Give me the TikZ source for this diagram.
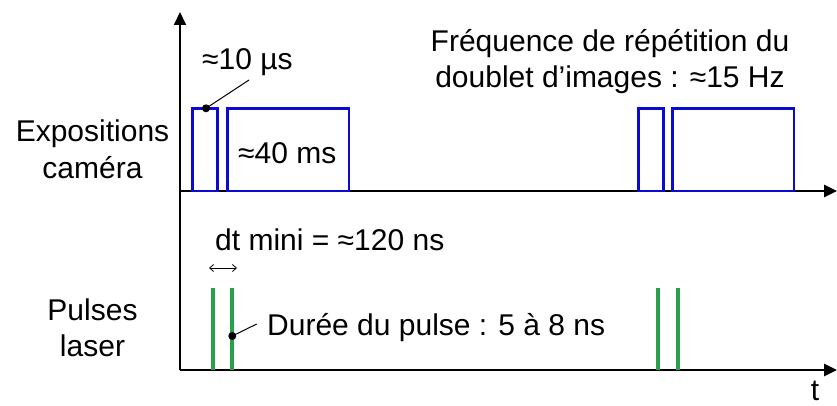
\documentclass[tikz,border=0pt]{standalone}
\usepackage{fontspec}
\setmainfont{Liberation Sans}
\usetikzlibrary{arrows.meta}
\definecolor{expblue}{RGB}{10,10,210}
\definecolor{pulsegreen}{RGB}{40,160,75}
\begin{document}
\begin{tikzpicture}[x=1pt,y=1pt,
  lbl/.style={inner sep=0pt,font=\fontsize{30}{36.5}\selectfont},
  axis/.style={line width=2.6pt,-{Triangle[length=13pt,width=12pt]}},
  expo/.style={draw=expblue,line width=2.8pt},
  pulse/.style={draw=pulsegreen,line width=4pt},
  pin/.style={line width=1pt},
  dotmark/.style={circle,fill=black,inner sep=0pt,minimum size=8pt}]
\useasboundingbox (0,0) rectangle (837,405);
% axes
\coordinate (O) at (180,35);
\coordinate (Ytop) at (180,393);
\coordinate (Uaxis) at (180,214);
\coordinate (Uend) at (837,214);
\coordinate (Lend) at (837,35);
\draw[line width=2pt,-{Triangle[length=13pt,width=12pt]}] (O) -- (Ytop);
\draw[axis] (Uaxis) -- (Uend);
\draw[axis] (O) -- (Lend);
% exposures
\draw[expo] (192.7,214) rectangle (217.7,296.7);
\draw[expo] (227.7,214) rectangle (349,296.7);
\draw[expo] (638.3,214) rectangle (663.3,296.7);
\draw[expo] (672.3,214) rectangle (794,296.7);
% pulses
\draw[pulse] (212.7,35) -- (212.7,117);
\draw[pulse] (232.3,35) -- (232.3,117);
\draw[pulse] (658.3,35) -- (658.3,117);
\draw[pulse] (677.7,35) -- (677.7,117);
% labels
\node[lbl,align=center,anchor=base] (expo) at (92.5,227) {Expositions\\caméra};
\node[lbl,align=center,anchor=base] (pul) at (92.5,48.3) {Pulses\\laser};
\node[lbl,align=center,anchor=base] (freq) at (610,317) {Fréquence de répétition du\\doublet d’images : ≈15 Hz};
\node[lbl,anchor=base west] (t10) at (202,335) {≈10 µs};
\node[lbl,anchor=base west] (t40) at (238,242) {≈40 ms};
\node[lbl,anchor=base west] (dt) at (215,155) {dt mini = ≈120 ns};
\node[lbl,anchor=base west] (dur) at (267,70) {Durée du pulse : 5 à 8 ns};
\node[lbl,anchor=base] (t) at (815,5) {t};
% pins
\node[dotmark] (d1) at (206,296.7) {};
\coordinate (d1e) at (249,325);
\draw[pin] (d1.center) -- (d1e);
\node[dotmark] (d2) at (232.3,69) {};
\coordinate (d2e) at (256.7,81);
\draw[pin] (d2.center) -- (d2e);
% dt arrow
\coordinate (dta) at (209,137);
\coordinate (dtb) at (237,137);
\draw[line width=0.8pt,{Straight Barb[length=4pt,width=7pt]}-{Straight Barb[length=4pt,width=7pt]}] (dta) -- (dtb);
\end{tikzpicture}
\end{document}
